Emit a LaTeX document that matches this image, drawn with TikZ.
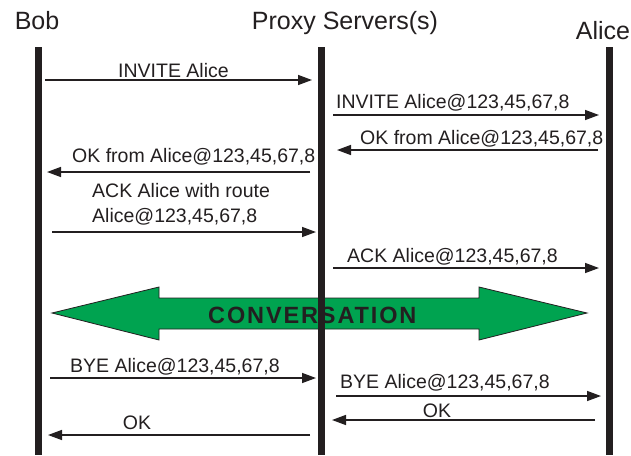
\documentclass[tikz,border=0pt]{standalone}
\usepackage{fontspec}
\setmainfont{Liberation Sans}
\newfontfamily\bandfont[LetterSpace=8]{Liberation Sans}
\usetikzlibrary{arrows.meta}
\definecolor{ink}{RGB}{35,31,32}
\definecolor{talkgreen}{RGB}{0,163,80}
\tikzset{
  lifeline/.style={line width=7pt, ink},
  msg/.style={line width=1.4pt, ink, -{Triangle[length=14pt,width=10pt]}},
  msglabel/.style={inner sep=0pt, anchor=base west, font=\fontsize{19.5}{22}\selectfont, text=ink},
  title/.style={inner sep=0pt, anchor=base, font=\fontsize{25}{28}\selectfont, text=ink},
}
\begin{document}
\begin{tikzpicture}[x=1pt,y=-1pt]
\useasboundingbox (0,0) rectangle (631,455);
\fill[white] (0,0) rectangle (631,455);

% participants
\node[title] (tbob) at (37,29) {Bob};
\node[title] (tproxy) at (345,29) {Proxy Servers(s)};
\node[title] (talice) at (603,39) {Alice};

\coordinate (bobtop) at (38,47);   \coordinate (bobbot) at (38,455);
\coordinate (proxytop) at (321,47); \coordinate (proxybot) at (321,455);
\coordinate (alicetop) at (609,47); \coordinate (alicebot) at (609,455);

% conversation band
\fill[talkgreen, draw=ink, line width=0.8pt]
  (52,313) -- (159,287) -- (159,298) -- (479,298) -- (479,287) -- (587,313)
  -- (479,340) -- (479,329) -- (159,329) -- (159,340) -- cycle;

% lifelines
\draw[lifeline] (bobtop) -- (bobbot);
\draw[lifeline] (proxytop) -- (proxybot);
\draw[lifeline] (alicetop) -- (alicebot);

\node[inner sep=0pt, anchor=base west, font=\bandfont\fontsize{23.5}{26}\bfseries, text=ink] (talk) at (208,323.5) {CONVERSATION};

% message end points
\coordinate (m1a) at (45,80);   \coordinate (m1b) at (312,80);
\coordinate (m2a) at (333,115); \coordinate (m2b) at (599,115);
\coordinate (m3a) at (598,150); \coordinate (m3b) at (337,150);
\coordinate (m4a) at (310,172); \coordinate (m4b) at (47,172);
\coordinate (m5a) at (52,232);  \coordinate (m5b) at (316,232);
\coordinate (m6a) at (333,268); \coordinate (m6b) at (599,268);
\coordinate (m7a) at (50,378);  \coordinate (m7b) at (316,378);
\coordinate (m8a) at (336,396); \coordinate (m8b) at (601,396);
\coordinate (m9a) at (595,420); \coordinate (m9b) at (332,420);
\coordinate (m10a) at (310,435); \coordinate (m10b) at (48,435);

\draw[msg] (m1a) -- (m1b);
\draw[msg] (m2a) -- (m2b);
\draw[msg] (m3a) -- (m3b);
\draw[msg] (m4a) -- (m4b);
\draw[msg] (m5a) -- (m5b);
\draw[msg] (m6a) -- (m6b);
\draw[msg] (m7a) -- (m7b);
\draw[msg] (m8a) -- (m8b);
\draw[msg] (m9a) -- (m9b);
\draw[msg] (m10a) -- (m10b);

% message labels
\node[msglabel] (l1) at (118,77) {INVITE Alice};
\node[msglabel] (l2) at (336,108) {INVITE Alice@123,45,67,8};
\node[msglabel] (l3) at (360,144) {OK from Alice@123,45,67,8};
\node[msglabel] (l4) at (72,162) {OK from Alice@123,45,67,8};
\node[msglabel] (l5a) at (92,197) {ACK Alice with route};
\node[msglabel] (l5b) at (92,222) {Alice@123,45,67,8};
\node[msglabel] (l6) at (347,262) {ACK Alice@123,45,67,8};
\node[msglabel] (l7) at (70,372) {BYE Alice@123,45,67,8};
\node[msglabel] (l8) at (340,388) {BYE Alice@123,45,67,8};
\node[msglabel, anchor=base] (l9) at (437,417) {OK};
\node[msglabel, anchor=base] (l10) at (137,429) {OK};
\end{tikzpicture}
\end{document}
